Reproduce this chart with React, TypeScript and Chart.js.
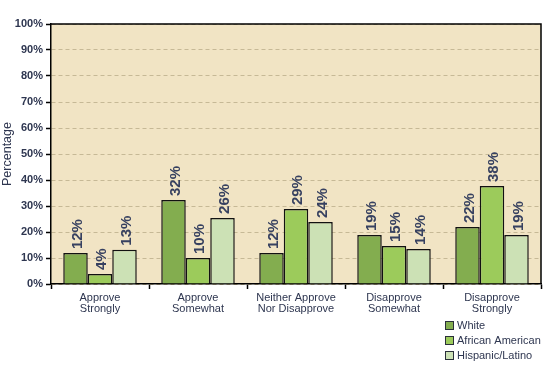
import React, { useEffect, useRef } from "react";
import { Chart, registerables } from "chart.js";

Chart.register(...registerables);

const categories: string[][] = [
  ["Approve", "Strongly"],
  ["Approve", "Somewhat"],
  ["Neither Approve", "Nor Disapprove"],
  ["Disapprove", "Somewhat"],
  ["Disapprove", "Strongly"],
];
const seriesNames = ["White", "African American", "Hispanic/Latino"];
const whiteValues = [11.9, 32.3, 11.9, 18.8, 21.9];
const africanAmericanValues = [3.8, 10.0, 28.8, 14.6, 37.7];
const hispanicValues = [13.2, 25.4, 23.8, 13.5, 18.8];
const whiteLabels = ["12%", "32%", "12%", "19%", "22%"];
const africanAmericanLabels = ["4%", "10%", "29%", "15%", "38%"];
const hispanicLabels = ["13%", "26%", "24%", "14%", "19%"];
const seriesColors = ["#83AD4F", "#9CCB5B", "#CCE1B5"];
const yTicks = [0, 10, 20, 30, 40, 50, 60, 70, 80, 90, 100];

const TEXT = "#2E3650";

export default function App() {
  const ref = useRef<HTMLCanvasElement | null>(null);
  useEffect(() => {
    document.body.style.margin = "0";
    const canvas = ref.current;
    if (!canvas) return;
    const labelSets = [whiteLabels, africanAmericanLabels, hispanicLabels];

    const bgPlugin = {
      id: "bg",
      beforeDraw(chart: any) {
        const { ctx, chartArea: a } = chart;
        ctx.save();
        ctx.fillStyle = "#F1E4C4";
        ctx.fillRect(a.left, a.top, a.right - a.left, a.bottom - a.top);
        ctx.restore();
      },
      afterDraw(chart: any) {
        const { ctx, chartArea: a } = chart;
        ctx.save();
        ctx.strokeStyle = "#000";
        ctx.lineWidth = 1.5;
        ctx.beginPath();
        ctx.moveTo(a.left, a.top);
        ctx.lineTo(a.right, a.top);
        ctx.lineTo(a.right, a.bottom);
        ctx.stroke();
        ctx.restore();
      },
    };

    const labelPlugin = {
      id: "vlabels",
      afterDatasetsDraw(chart: any) {
        const ctx = chart.ctx;
        ctx.save();
        ctx.font = "bold 15px Arial, 'Liberation Sans', sans-serif";
        ctx.fillStyle = "#374160";
        ctx.textAlign = "left";
        ctx.textBaseline = "middle";
        chart.data.datasets.forEach((ds: any, di: number) => {
          const meta = chart.getDatasetMeta(di);
          meta.data.forEach((el: any, i: number) => {
            ctx.save();
            ctx.translate(el.x + 2, el.y - 4);
            ctx.rotate(-Math.PI / 2);
            ctx.fillText(labelSets[di][i], 0, 0);
            ctx.restore();
          });
        });
        ctx.restore();
      },
    };

    const legendPlugin = {
      id: "customLegend",
      afterDraw(chart: any) {
        const ctx = chart.ctx;
        ctx.save();
        ctx.font = "11px Arial, 'Liberation Sans', sans-serif";
        ctx.textBaseline = "middle";
        ctx.textAlign = "left";
        const x0 = 445;
        const ys = [325, 340, 355];
        chart.data.datasets.forEach((ds: any, i: number) => {
          const y = ys[i];
          ctx.fillStyle = ds.backgroundColor;
          ctx.fillRect(x0, y - 4, 8, 8);
          ctx.strokeStyle = "#2A2F3A";
          ctx.lineWidth = 1;
          ctx.strokeRect(x0 + 0.5, y - 3.5, 8, 8);
          ctx.fillStyle = TEXT;
          ctx.fillText(ds.label, x0 + 12, y + 0.5);
        });
        ctx.restore();
      },
    };

    const chart = new Chart(canvas, {
      type: "bar",
      data: {
        labels: categories,
        datasets: [
          { label: seriesNames[0], data: whiteValues, backgroundColor: seriesColors[0] },
          { label: seriesNames[1], data: africanAmericanValues, backgroundColor: seriesColors[1] },
          { label: seriesNames[2], data: hispanicValues, backgroundColor: seriesColors[2] },
        ].map((d) => ({
          ...d,
          borderColor: "#111",
          borderWidth: 1.5,
          barPercentage: 1,
          categoryPercentage: 0.75,
        })),
      },
      options: {
        responsive: false,
        animation: false,
        layout: { padding: { top: 24, right: 4, left: 0, bottom: 0 } },
        plugins: {
          legend: { display: false },
          tooltip: { enabled: false },
        },
        scales: {
          x: {
            afterFit(scale: any) {
              scale.height = 82;
            },
            grid: {
              offset: true,
              drawOnChartArea: false,
              tickLength: 5,
              tickColor: "#000",
              tickWidth: 1.5,
            },
            border: { color: "#000", width: 1.5 },
            ticks: {
              color: TEXT,
              padding: 4,
              maxRotation: 0,
              autoSkip: false,
              font: { family: "Arial, 'Liberation Sans', sans-serif", size: 11, lineHeight: 0.96 },
            },
          },
          y: {
            min: 0,
            max: 100,
            afterFit(scale: any) {
              scale.width = 51;
            },
            afterBuildTicks(scale: any) {
              scale.ticks = yTicks.map((v) => ({ value: v }));
            },
            grid: {
              color: "#C6B996",
              lineWidth: 1,
              tickLength: 5,
              tickColor: "#000",
              tickWidth: 1.5,
              tickBorderDash: [],
            },
            border: { color: "#000", width: 1.5, dash: [4, 3] },
            ticks: {
              color: TEXT,
              padding: 3,
              callback: (v: any) => v + "%",
              font: { family: "Arial, 'Liberation Sans', sans-serif", size: 11, weight: "bold" },
            },
            title: {
              display: true,
              text: "Percentage",
              color: TEXT,
              padding: { top: 0, bottom: 0 },
              font: { family: "Arial, 'Liberation Sans', sans-serif", size: 12.5 },
            },
          },
        },
      },
      plugins: [bgPlugin, labelPlugin, legendPlugin],
    } as any);
    return () => chart.destroy();
  }, []);

  return (
    <div style={{ width: 545, height: 366 }}>
      <canvas ref={ref} width={545} height={366} />
    </div>
  );
}
